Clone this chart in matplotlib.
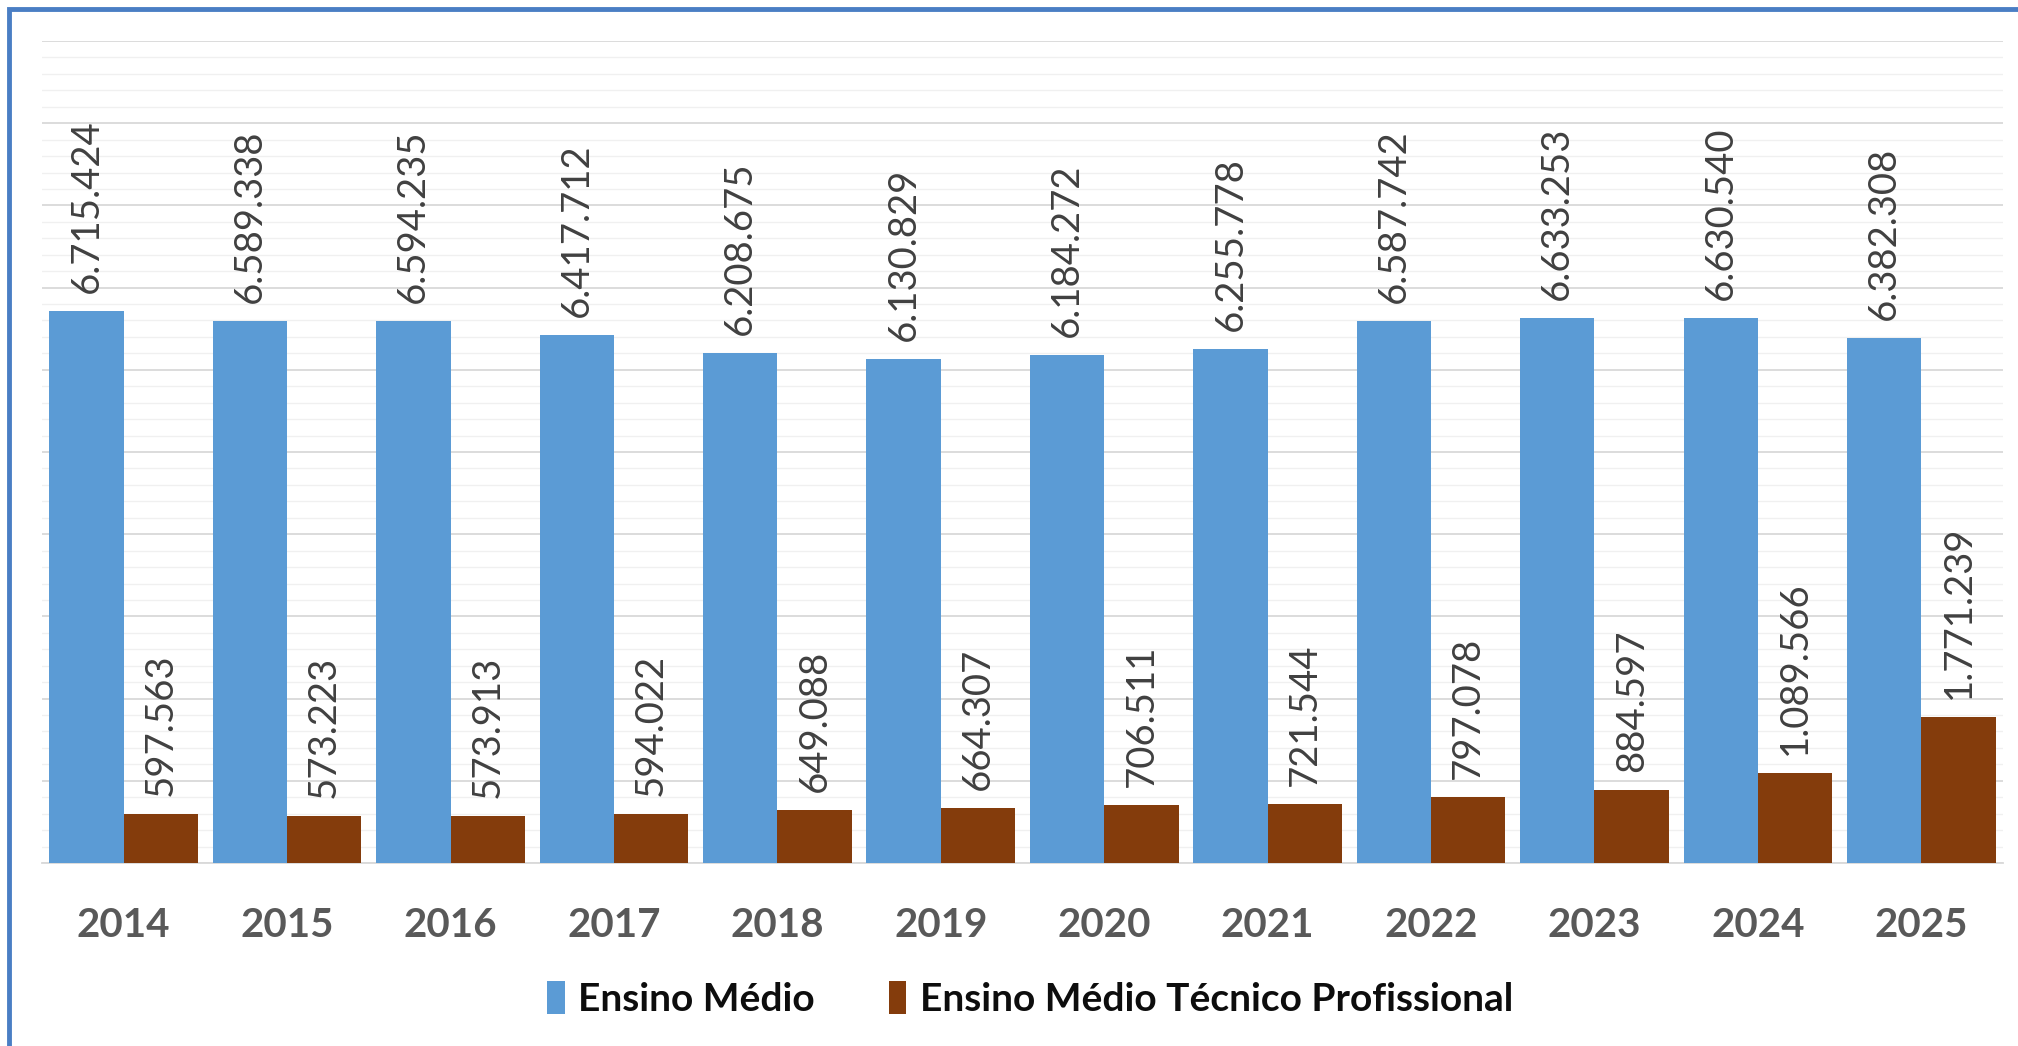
import matplotlib
matplotlib.use("Agg")
import matplotlib.pyplot as plt
import numpy as np
from matplotlib.patches import Rectangle
from matplotlib.ticker import MultipleLocator

years = ["2014", "2015", "2016", "2017", "2018", "2019", "2020", "2021", "2022", "2023", "2024", "2025"]
ensino_medio = [6715424, 6589338, 6594235, 6417712, 6208675, 6130829, 6184272, 6255778, 6587742, 6633253, 6630540, 6382308]
ensino_tecnico = [597563, 573223, 573913, 594022, 649088, 664307, 706511, 721544, 797078, 884597, 1089566, 1771239]
series_names = ["Ensino Médio", "Ensino Médio Técnico Profissional"]

blue = "#5B9BD5"
brown = "#843C0C"

def fmt(v):
    return f"{v:,}".replace(",", ".")

W, H = 2018, 1046
fig = plt.figure(figsize=(W / 100, H / 100), dpi=100)
fig.patch.set_facecolor("white")

ax = fig.add_axes([42 / W, 1 - 863 / H, (2003 - 42) / W, (863 - 41) / H])
x = np.arange(len(years))
bw = 0.455
b1 = ax.bar(x - bw / 2, ensino_medio, width=bw, color=blue, label=series_names[0], zorder=3)
b2 = ax.bar(x + bw / 2, ensino_tecnico, width=bw, color=brown, label=series_names[1], zorder=3)

for bars, vals in ((b1, ensino_medio), (b2, ensino_tecnico)):
    for r, v in zip(bars, vals):
        ax.annotate(fmt(v), (r.get_x() + r.get_width() / 2, v), xytext=(0, 13),
                    textcoords="offset points", rotation=90, ha="center", va="bottom",
                    fontsize=27.5, color="#404040", family="Lato")

ax.set_xlim(-0.5, len(years) - 0.5)
ax.set_ylim(0, 10000000)
ax.yaxis.set_major_locator(MultipleLocator(1000000))
ax.yaxis.set_minor_locator(MultipleLocator(200000))
ax.grid(axis="y", which="major", color="#D9D9D9", linewidth=1.3, zorder=0)
ax.grid(axis="y", which="minor", color="#F0F0F0", linewidth=1.0, zorder=0)
ax.set_axisbelow(True)
for s in ("top", "right", "left"):
    ax.spines[s].set_visible(False)
ax.spines["bottom"].set_color("#D9D9D9")
ax.spines["bottom"].set_linewidth(1.3)
ax.tick_params(axis="y", which="both", left=False, labelleft=False)
ax.set_xticks(x)
ax.set_xticklabels(years, fontsize=29, fontweight="bold", color="#595959", family="Lato")
ax.tick_params(axis="x", length=0, pad=32)

leg = fig.legend(handles=[b1, b2], labels=series_names, loc="center", bbox_to_anchor=(1030 / W, 1 - 999 / H),
                 ncol=2, frameon=False, handlelength=0.45, handleheight=0.9, handletextpad=0.35,
                 columnspacing=1.9, prop={"family": "Lato", "weight": "bold", "size": 28})
for t in leg.get_texts():
    t.set_color("#0D0D0D")

border = Rectangle((9 / W, -0.05), 1.2, 1 - 9 / H + 0.05, transform=fig.transFigure, fill=False,
                   edgecolor="#4A7EC4", linewidth=3.5, clip_on=False)
fig.patches.append(border)

fig.savefig("out.png", dpi=100, facecolor="white")
